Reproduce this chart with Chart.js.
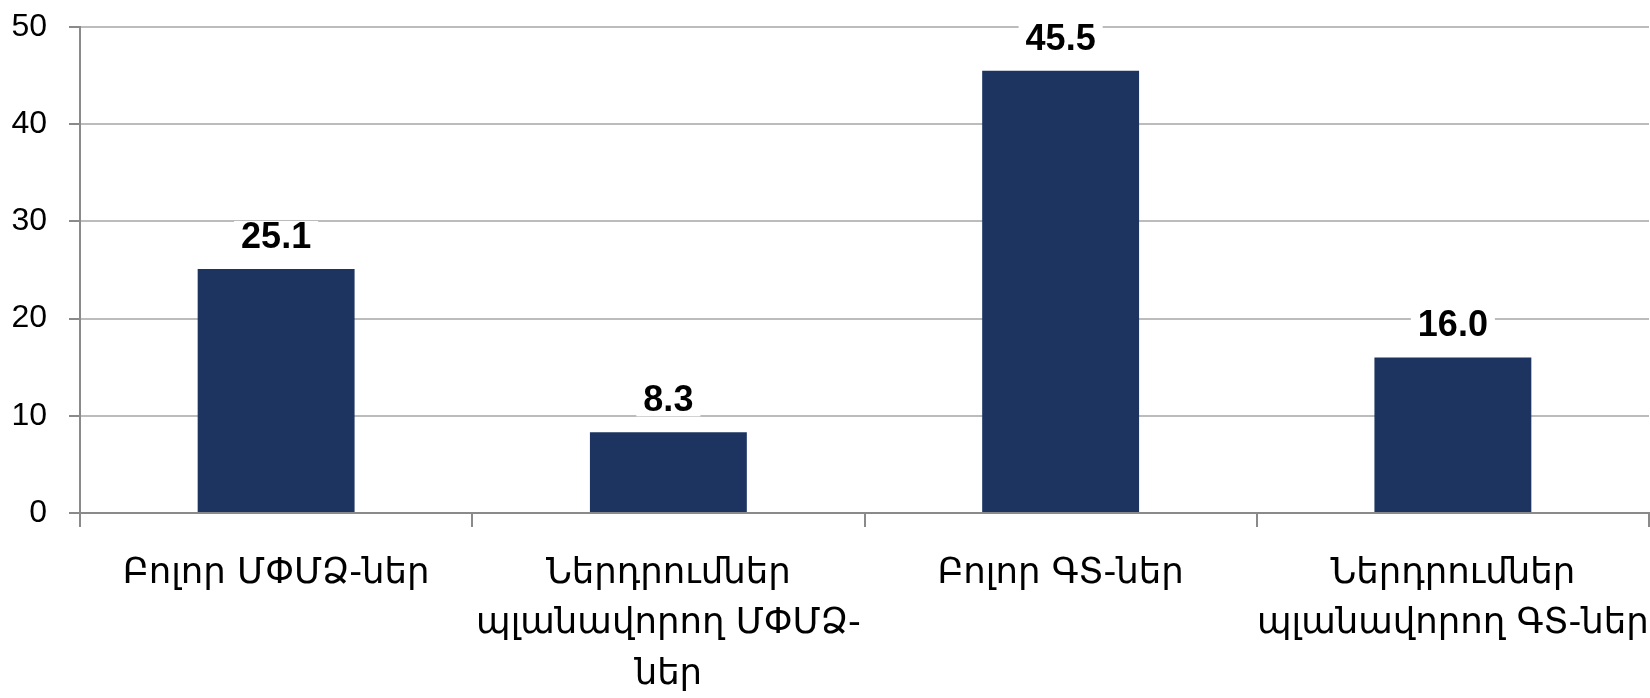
<!DOCTYPE html>
<html>
<head>
<meta charset="utf-8">
<script src="https://cdn.jsdelivr.net/npm/chart.js@4.4.1/dist/chart.umd.min.js"></script>
<style>
  html, body { margin: 0; padding: 0; background: #fff; }
  #wrap { width: 1650px; height: 698px; }
</style>
</head>
<body>
<div id="wrap"><canvas id="grafico"></canvas></div>
<script>
// datos del gráfico
const categorias = [
  'Բոլոր ՄՓՄՁ-ներ',
  ['Ներդրումներ', 'պլանավորող ՄՓՄՁ-', 'ներ'],
  'Բոլոր ԳՏ-ներ',
  ['Ներդրումներ', 'պլանավորող ԳՏ-ներ']
];
const valores = [25.1, 8.3, 45.5, 16.0];
const ticksY = [0, 10, 20, 30, 40, 50];

const colorBarra = '#1d3461';
const colorGrid = '#bcbcbc';
const colorEje = '#8a8a8a';

// etiquetas de valor con fondo blanco encima de cada barra
const etiquetas = {
  id: 'etiquetas',
  afterDatasetsDraw(chart) {
    const ctx = chart.ctx;
    const meta = chart.getDatasetMeta(0);
    ctx.save();
    ctx.font = 'bold 36px "Liberation Sans", Arial, sans-serif';
    ctx.textAlign = 'center';
    ctx.textBaseline = 'middle';
    meta.data.forEach((bar, i) => {
      const txt = valores[i].toFixed(1);
      const w = ctx.measureText(txt).width;
      const y = bar.y - 32;
      ctx.fillStyle = '#fff';
      ctx.fillRect(bar.x - w / 2 - 7, y - 16, w + 14, 32);
      ctx.fillStyle = '#000';
      ctx.fillText(txt, bar.x, y + 1);
    });
    ctx.restore();
  }
};

// sin relleno automático: la posición del área la fija layout.padding
function sinRelleno(scale) {
  scale.paddingTop = 0;
  scale.paddingBottom = 0;
  scale.paddingLeft = 0;
  scale.paddingRight = 0;
}

new Chart(document.getElementById('grafico'), {
  type: 'bar',
  data: {
    labels: categorias,
    datasets: [{
      data: valores,
      backgroundColor: colorBarra,
      categoryPercentage: 1,
      barPercentage: 0.4
    }]
  },
  options: {
    responsive: true,
    maintainAspectRatio: false,
    animation: false,
    layout: { padding: { top: 27, right: 1, left: 0, bottom: 0 } },
    plugins: {
      legend: { display: false },
      tooltip: { enabled: false }
    },
    scales: {
      x: {
        offset: true,
        grid: {
          offset: true,
          drawOnChartArea: false,
          drawTicks: true,
          tickLength: 14,
          color: colorEje,
          lineWidth: 2
        },
        border: { color: colorEje, width: 2 },
        ticks: {
          color: '#000',
          maxRotation: 0,
          autoSkip: false,
          padding: 21,
          font: { family: '"DejaVu Sans", sans-serif', size: 35.5, lineHeight: 1.43 }
        },
        afterFit(scale) { scale.height = 185; sinRelleno(scale); }
      },
      y: {
        min: 0,
        max: 50,
        afterBuildTicks(scale) { scale.ticks = ticksY.map(v => ({ value: v })); },
        grid: {
          color: colorGrid,
          lineWidth: 2,
          tickLength: 11,
          tickColor: colorEje
        },
        border: { color: colorEje, width: 2 },
        ticks: {
          color: '#000',
          padding: 22,
          font: { family: '"Liberation Sans", Arial, sans-serif', size: 32 }
        },
        afterFit(scale) { scale.width = 80; sinRelleno(scale); }
      }
    }
  },
  plugins: [etiquetas]
});
</script>
</body>
</html>
